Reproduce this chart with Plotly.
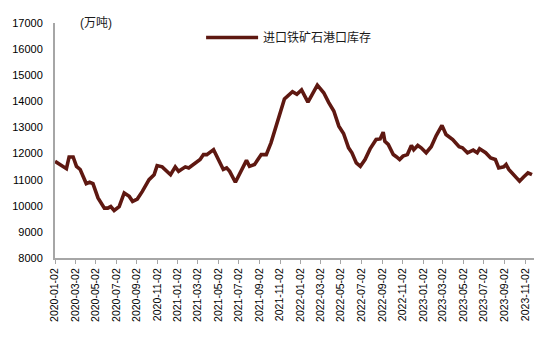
import plotly.graph_objects as go

dates = [
    "2020-01-02", "2020-02-05", "2020-02-13", "2020-02-25", "2020-03-06", "2020-03-17",
    "2020-04-04", "2020-04-14", "2020-04-24", "2020-05-09", "2020-05-28", "2020-06-07",
    "2020-06-16", "2020-06-26", "2020-07-11", "2020-07-26", "2020-08-10", "2020-08-20",
    "2020-09-03", "2020-09-18", "2020-10-08", "2020-10-23", "2020-11-01", "2020-11-16",
    "2020-12-11", "2020-12-25", "2021-01-04", "2021-01-24", "2021-02-03", "2021-02-22",
    "2021-03-09", "2021-03-19", "2021-03-29", "2021-04-18", "2021-05-02", "2021-05-17",
    "2021-05-27", "2021-06-05", "2021-06-22", "2021-07-10", "2021-07-25", "2021-08-03",
    "2021-08-18", "2021-09-07", "2021-09-22", "2021-10-06", "2021-10-21", "2021-10-31",
    "2021-11-15", "2021-12-09", "2021-12-22", "2022-01-05", "2022-01-24", "2022-02-21",
    "2022-03-12", "2022-03-27", "2022-04-11", "2022-04-26", "2022-05-10", "2022-05-25",
    "2022-06-04", "2022-06-17", "2022-06-29", "2022-07-13", "2022-07-28", "2022-08-15",
    "2022-08-27", "2022-09-05", "2022-09-10", "2022-09-20", "2022-10-05", "2022-10-15",
    "2022-10-24", "2022-11-03", "2022-11-16", "2022-11-28", "2022-12-05", "2022-12-17",
    "2022-12-27", "2023-01-11", "2023-01-26", "2023-02-10", "2023-02-27", "2023-03-11",
    "2023-03-31", "2023-04-19", "2023-04-29", "2023-05-14", "2023-05-31", "2023-06-12",
    "2023-06-19", "2023-07-07", "2023-07-22", "2023-08-05", "2023-08-15", "2023-08-30",
    "2023-09-06", "2023-09-14", "2023-09-29", "2023-10-16", "2023-10-28", "2023-11-10",
    "2023-11-22",
]
inventory = [
    11700, 11420, 11870, 11870, 11510, 11390,
    10850, 10900, 10850, 10300, 9910, 9910,
    9970, 9820, 9970, 10490, 10360, 10170,
    10260, 10550, 11000, 11190, 11540, 11490,
    11190, 11490, 11320, 11490, 11450, 11640,
    11770, 11960, 11960, 12150, 11770, 11390,
    11450, 11320, 10900, 11320, 11740, 11510,
    11580, 11960, 11960, 12410, 13050, 13560,
    14090, 14370, 14270, 14440, 13970, 14620,
    14330, 13950, 13630, 13050, 12770, 12220,
    12030, 11640, 11510, 11770, 12180, 12540,
    12560, 12820, 12470, 12350, 11960, 11870,
    11770, 11900, 11960, 12310, 12150, 12310,
    12220, 12030, 12260, 12690, 13080, 12730,
    12540, 12260, 12220, 12030, 12130, 12030,
    12180, 12030, 11830, 11770, 11450, 11490,
    11580, 11390, 11190, 10940, 11100, 11260,
    11190,
]
tick_dates = [
    "2020-01-02", "2020-03-02", "2020-05-02", "2020-07-02", "2020-09-02", "2020-11-02",
    "2021-01-02", "2021-03-02", "2021-05-02", "2021-07-02", "2021-09-02", "2021-11-02",
    "2022-01-02", "2022-03-02", "2022-05-02", "2022-07-02", "2022-09-02", "2022-11-02",
    "2023-01-02", "2023-03-02", "2023-05-02", "2023-07-02", "2023-09-02", "2023-11-02",
]
y_ticks = [8000, 9000, 10000, 11000, 12000, 13000, 14000, 15000, 16000, 17000]
series_name = "进口铁矿石港口库存"
unit_label = "(万吨)"

FONT = "Arial, 'Liberation Sans', 'Noto Sans CJK SC', sans-serif"

fig = go.Figure()
fig.add_trace(go.Scatter(
    x=dates, y=inventory, mode="lines", name=series_name,
    line=dict(color="#5E1811", width=3.6),
))

fig.update_layout(
    width=550, height=338,
    margin=dict(l=52, r=16, t=23, b=80),
    paper_bgcolor="white", plot_bgcolor="white",
    font=dict(family=FONT, size=11, color="#000000"),
    showlegend=True,
    legend=dict(
        x=0.305, y=1.0, xanchor="left", yanchor="top",
        bgcolor="rgba(0,0,0,0)", font=dict(size=12, color="#1a1a1a"),
        itemwidth=52, tracegroupgap=0,
    ),
    xaxis=dict(
        type="date",
        range=["2020-01-02", "2023-11-28"],
        tickvals=tick_dates, ticktext=tick_dates,
        tickangle=-90, tickfont=dict(size=10.5, color="#000000"),
        showgrid=False, zeroline=False,
        showline=True, linecolor="#A6A6A6", linewidth=2,
        ticks="outside", ticklen=4, tickcolor="#A6A6A6", tickwidth=1,
    ),
    yaxis=dict(
        range=[8000, 17000],
        tickvals=y_ticks, ticktext=[str(v) for v in y_ticks],
        tickfont=dict(size=11, color="#000000"),
        showgrid=False, zeroline=False,
        showline=True, linecolor="#A6A6A6", linewidth=2,
        ticks="", ticklabelstandoff=8,
    ),
    annotations=[dict(
        text=unit_label, xref="paper", yref="paper", x=0.047, y=1.0,
        xanchor="left", yanchor="middle", showarrow=False,
        font=dict(size=12, color="#1a1a1a"),
    )],
)

fig.write_html("out.html")
